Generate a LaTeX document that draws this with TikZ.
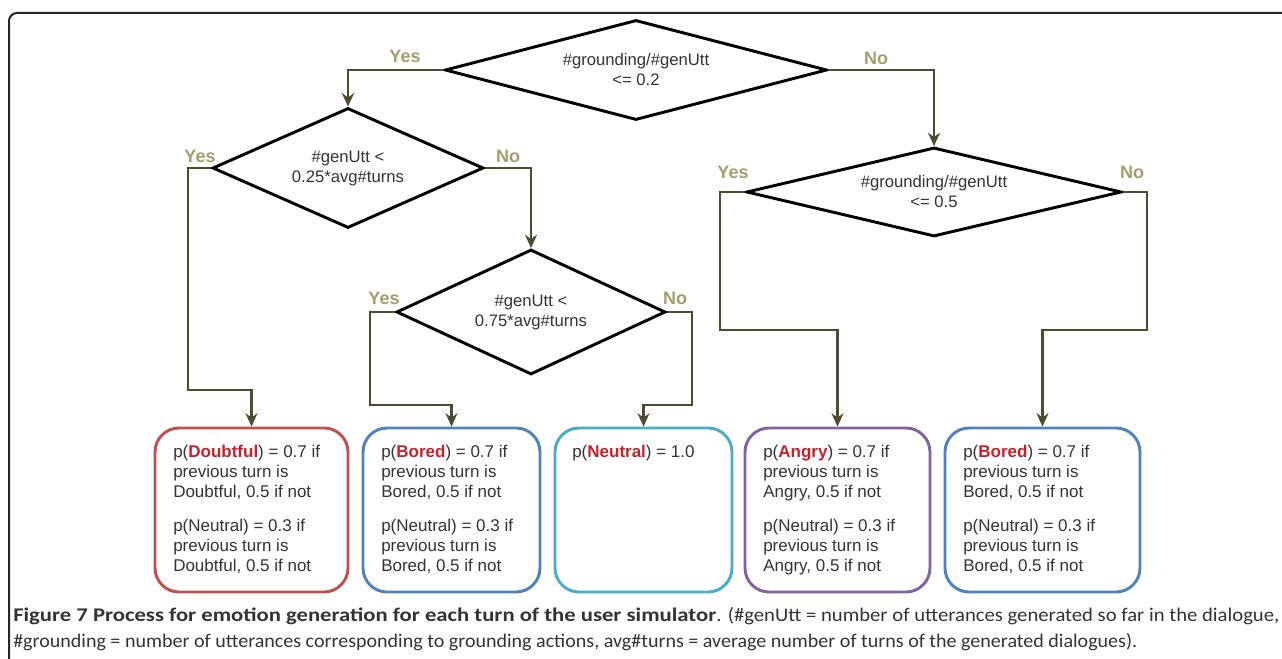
\documentclass[tikz,border=0pt]{standalone}
\usepackage{fontspec}
\setmainfont{Liberation Sans}
\newfontfamily\capfont{Carlito}
\usetikzlibrary{shapes.geometric,arrows.meta}
\definecolor{flowline}{HTML}{4F4B30}
\definecolor{yesno}{HTML}{A39E6E}
\definecolor{emored}{HTML}{C8202A}
\definecolor{boxred}{HTML}{C0504D}
\definecolor{boxblue}{HTML}{4F81BD}
\definecolor{boxcyan}{HTML}{4BACC6}
\definecolor{boxpurple}{HTML}{8064A2}
\definecolor{txtgray}{HTML}{333333}
\newcommand{\emo}[1]{\textcolor{emored}{\textbf{#1}}}

\begin{document}
\begin{tikzpicture}[x=0.75pt,y=-0.75pt,
  cond/.style={draw, diamond, line width=2.2pt, inner sep=0pt, align=center,
    text=txtgray, font=\fontsize{12.5}{15}\selectfont},
  flow/.style={draw=flowline, line width=2.2pt, -{Stealth[length=10pt,width=9pt]}},
  answer/.style={text=yesno, font=\fontsize{13.5}{15}\bfseries\selectfont, inner sep=0pt},
  ebox/.style={draw, rounded corners=18pt, line width=2.2pt, minimum height=123pt},
  etext/.style={anchor=north west, inner sep=0pt, align=left, text=txtgray,
    font=\fontsize{12.75}{15}\selectfont},
  capline/.style={anchor=west, inner sep=0pt, text=txtgray, font=\capfont\fontsize{14.5}{17}\selectfont}]
\useasboundingbox (0,0) rectangle (1282,659);
% outer frame
\draw[line width=1.5pt, black!85, rounded corners=6pt] (9,720) -- (9,13) -- (1320,13);

% decisions
\node[cond, aspect=3.8, minimum width=286.5pt, minimum height=75pt] (dtop) at (636,70) {\#grounding/\#genUtt\\<= 0.2};
\node[cond, aspect=2.2, minimum width=203.25pt, minimum height=90pt] (dleft) at (348,168) {\#genUtt <\\0.25*avg\#turns};
\node[cond, aspect=2.2, minimum width=201.75pt, minimum height=93.75pt] (dmid) at (531,312) {\#genUtt <\\0.75*avg\#turns};
\node[cond, aspect=4.2, minimum width=281.25pt, minimum height=66.75pt] (dright) at (934,192) {\#grounding/\#genUtt\\<= 0.5};

% outcomes
\node[ebox, draw=boxred, minimum width=144.75pt] (b1) at (251.5,510) {};
\node[ebox, draw=boxblue, minimum width=132.75pt] (b2) at (451.5,510) {};
\node[ebox, draw=boxcyan, minimum width=132.75pt] (b3) at (643.5,510) {};
\node[ebox, draw=boxpurple, minimum width=138.75pt] (b4) at (837.5,510) {};
\node[ebox, draw=boxblue, minimum width=146.25pt] (b5) at (1042.5,510) {};

\node[etext] (t1) at (173,445) {p(\emo{Doubtful}) = 0.7 if\\previous turn is\\Doubtful, 0.5 if not\\[10.5pt]p(Neutral) = 0.3 if\\previous turn is\\Doubtful, 0.5 if not};
\node[etext] (t2) at (381,445) {p(\emo{Bored}) = 0.7 if\\previous turn is\\Bored, 0.5 if not\\[10.5pt]p(Neutral) = 0.3 if\\previous turn is\\Bored, 0.5 if not};
\node[etext] (t3) at (572,445) {p(\emo{Neutral}) = 1.0};
\node[etext] (t4) at (763,445) {p(\emo{Angry}) = 0.7 if\\previous turn is\\Angry, 0.5 if not\\[10.5pt]p(Neutral) = 0.3 if\\previous turn is\\Angry, 0.5 if not};
\node[etext] (t5) at (963,445) {p(\emo{Bored}) = 0.7 if\\previous turn is\\Bored, 0.5 if not\\[10.5pt]p(Neutral) = 0.3 if\\previous turn is\\Bored, 0.5 if not};

% bends
\coordinate (k1) at (188,390);
\coordinate (k2) at (370,405);
\coordinate (k3) at (692,405);
\coordinate (k4) at (720,330);
\coordinate (k5) at (1147,330);

\draw[flow] (dtop.west) -| (dleft.north);
\draw[flow] (dtop.east) -| (dright.north);
\draw[flow] (dleft.west) -| (k1) -| (b1.north);
\draw[flow] (dleft.east) -| (dmid.north);
\draw[flow] (dmid.west) -| (k2) -| (b2.north);
\draw[flow] (dmid.east) -| (k3) -| (b3.north);
\draw[flow] (dright.west) -| (k4) -| (b4.north);
\draw[flow] (dright.east) -| (k5) -| (b5.north);

% answers
\node[answer] (y1) at (405,56) {Yes};
\node[answer] (n1) at (876,58) {No};
\node[answer] (y2) at (200,156) {Yes};
\node[answer] (n2) at (508,156) {No};
\node[answer] (y3) at (384,298) {Yes};
\node[answer] (n3) at (675,298) {No};
\node[answer] (y4) at (733,172) {Yes};
\node[answer] (n4) at (1132,172) {No};

% caption
\node[capline] (cap1) at (13,616)
  {\resizebox{527.25pt}{\height}{\textbf{Figure 7 Process for emotion generation for each turn of the user simulator}}\resizebox{422.25pt}{\height}{. (\#genUtt = number of utterances generated so far in the dialogue,}};
\node[capline] (cap2) at (13,642)
  {\resizebox{843pt}{\height}{\#grounding = number of utterances corresponding to grounding actions, avg\#turns = average number of turns of the generated dialogues).}};
\end{tikzpicture}
\end{document}
